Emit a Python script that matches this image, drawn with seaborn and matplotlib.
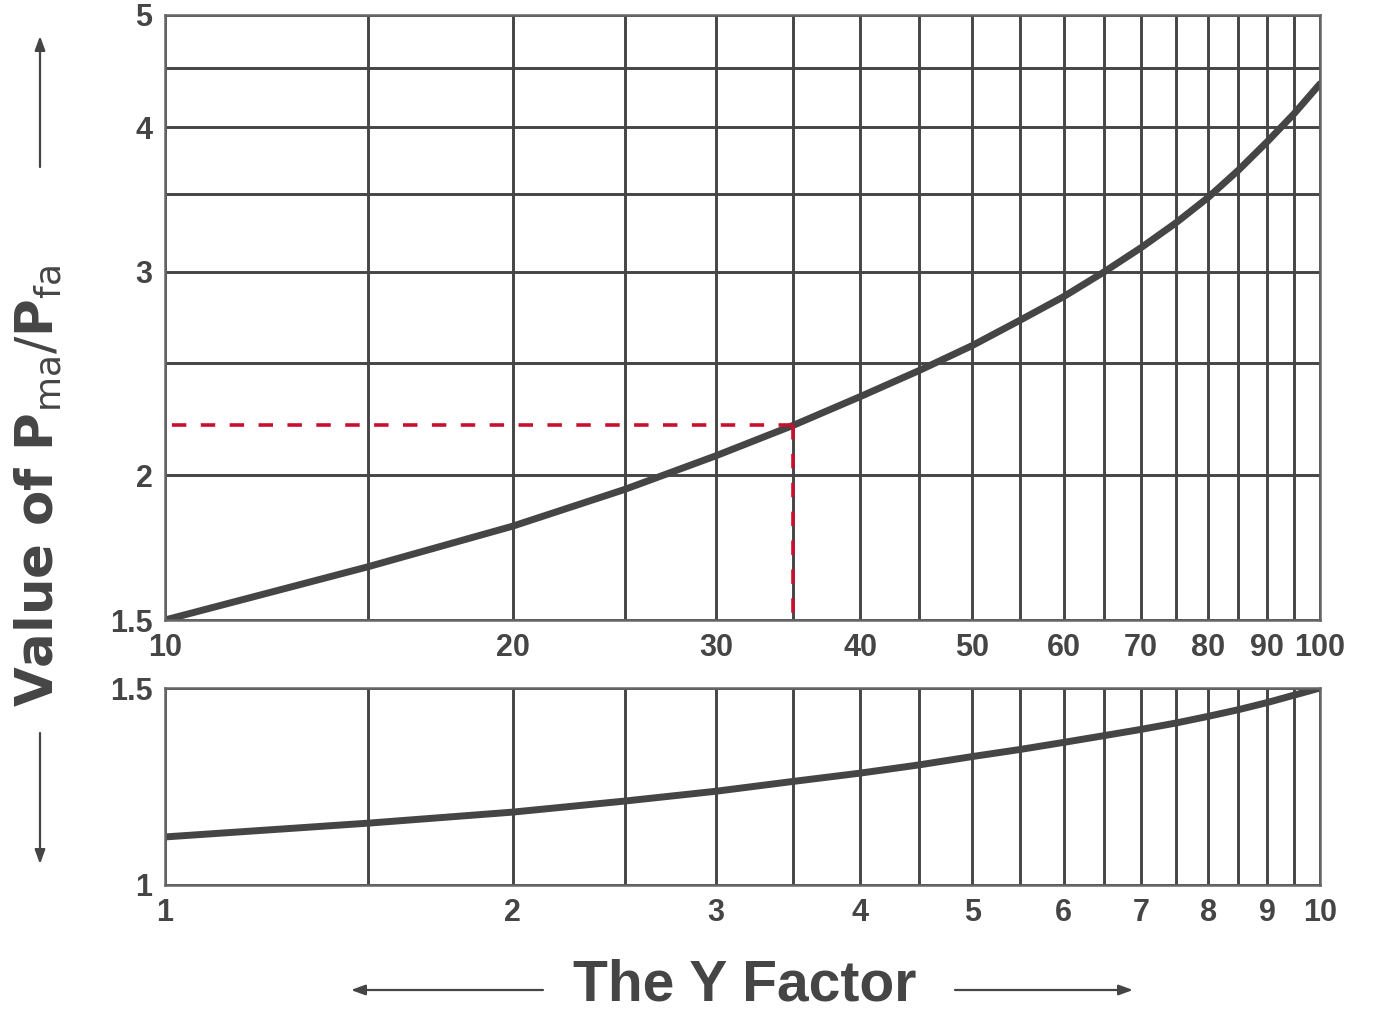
import numpy as np
import pandas as pd
import seaborn as sns
import matplotlib.pyplot as plt
from matplotlib.patches import FancyArrowPatch
from matplotlib.ticker import NullFormatter

# values
top_x = [10, 15, 20, 25, 30, 35, 40, 45, 50, 55, 60, 65, 70, 75, 80, 85, 90, 95, 100]
top_y = [1.50, 1.668, 1.808, 1.945, 2.08, 2.21, 2.34, 2.465, 2.59, 2.724, 2.855,
         2.998, 3.147, 3.305, 3.477, 3.672, 3.885, 4.11, 4.36]

bot_x = [1, 1.5, 2, 2.5, 3, 3.5, 4, 4.5, 5, 5.5, 6, 6.5, 7, 7.5, 8, 8.5, 9, 9.5, 10]
bot_y = [1.122, 1.157, 1.185, 1.213, 1.238, 1.263, 1.284, 1.305, 1.326, 1.344, 1.362,
         1.379, 1.395, 1.411, 1.428, 1.445, 1.463, 1.482, 1.50]

# worked example (Y = 35)
ref_x = 35
ref_y = 2.21

top_xticks = [10, 20, 30, 40, 50, 60, 70, 80, 90, 100]
top_xgrid = [15, 25, 35, 45, 55, 65, 75, 85, 95]
top_yticks = [1.5, 2, 3, 4, 5]
top_ygrid = [2.5, 3.5, 4.5]

bot_xticks = [1, 2, 3, 4, 5, 6, 7, 8, 9, 10]
bot_xgrid = [1.5, 2.5, 3.5, 4.5, 5.5, 6.5, 7.5, 8.5, 9.5]
bot_yticks = [1, 1.5]

DARK = "#454545"
RED = "#c8102e"

sns.set_theme(style="white")
plt.rcParams['font.family'] = ['DejaVu Sans']
plt.rcParams['mathtext.fontset'] = 'dejavusans'

W, H = 1374, 1013
fig = plt.figure(figsize=(W / 100, H / 100), dpi=100)
ax_top = fig.add_axes([165 / W, 1 - 620 / H, 1155 / W, 605 / H])
ax_bot = fig.add_axes([165 / W, 1 - 885 / H, 1155 / W, 197 / H])

tick_font = dict(fontweight='bold', family=['Liberation Sans', 'DejaVu Sans'])


def style_axes(ax, xticks, xgrid, yticks, ygrid, ylog):
    ax.set_xscale('log')
    if ylog:
        ax.set_yscale('log')
    ax.set_xlim(xticks[0], xticks[-1])
    ax.set_ylim(yticks[0], yticks[-1])
    ax.set_xticks(xticks, [f"{t:g}" for t in xticks], **tick_font)
    ax.set_xticks(xgrid, minor=True)
    ax.set_yticks(yticks, [f"{t:g}" for t in yticks], **tick_font)
    ax.set_yticks(ygrid, minor=True)
    ax.xaxis.set_minor_formatter(NullFormatter())
    ax.yaxis.set_minor_formatter(NullFormatter())
    ax.grid(True, which='both', color=DARK, lw=2.1)
    ax.tick_params(which='both', length=0, labelsize=22, labelcolor=DARK)
    ax.tick_params(axis='x', pad=9)
    ax.tick_params(axis='y', pad=9)
    for s in ax.spines.values():
        s.set_color("#666666")
        s.set_linewidth(1.8)
    ax.set_xlabel("")
    ax.set_ylabel("")


sns.lineplot(x=top_x, y=top_y, ax=ax_top, color=DARK, lw=5, zorder=2)
sns.lineplot(x=bot_x, y=bot_y, ax=ax_bot, color=DARK, lw=5, zorder=2)

style_axes(ax_top, top_xticks, top_xgrid, top_yticks, top_ygrid, ylog=True)
style_axes(ax_bot, bot_xticks, bot_xgrid, bot_yticks, [], ylog=False)

# red dashed guide lines
ax_top.plot([ref_x, top_x[0]], [ref_y, ref_y], color=RED, lw=2.6, dashes=(4, 4), zorder=3)
ax_top.plot([ref_x, ref_x], [ref_y, top_yticks[0]], color=RED, lw=2.6, dashes=(4, 4), zorder=3)

# axis titles
fig.text(38 / W, 1 - 486 / H,
         r"Value of $\mathbf{P}_{\mathrm{ma}}\mathrm{/}\mathbf{P}_{\mathrm{fa}}$",
         rotation=90, fontsize=37, fontweight='bold', color=DARK,
         ha='center', va='center')
fig.text(745 / W, 1 - 1000 / H, "The Y Factor", fontsize=41,
         family=['Liberation Sans', 'DejaVu Sans'], fontweight='bold',
         color=DARK, ha='center', va='baseline')


# arrows next to the titles
def fig_arrow(x0, y0, x1, y1):
    fig.add_artist(FancyArrowPatch(
        (x0 / W, 1 - y0 / H), (x1 / W, 1 - y1 / H),
        transform=fig.transFigure,
        arrowstyle='-|>,head_length=0.6,head_width=0.22',
        mutation_scale=14, color=DARK, lw=1.6,
        shrinkA=0, shrinkB=0))


fig_arrow(40, 167, 40, 36)
fig_arrow(40, 733, 40, 864)
fig_arrow(543, 990, 351, 990)
fig_arrow(955, 990, 1133, 990)

fig.savefig("out.png", dpi=100, facecolor='white')
